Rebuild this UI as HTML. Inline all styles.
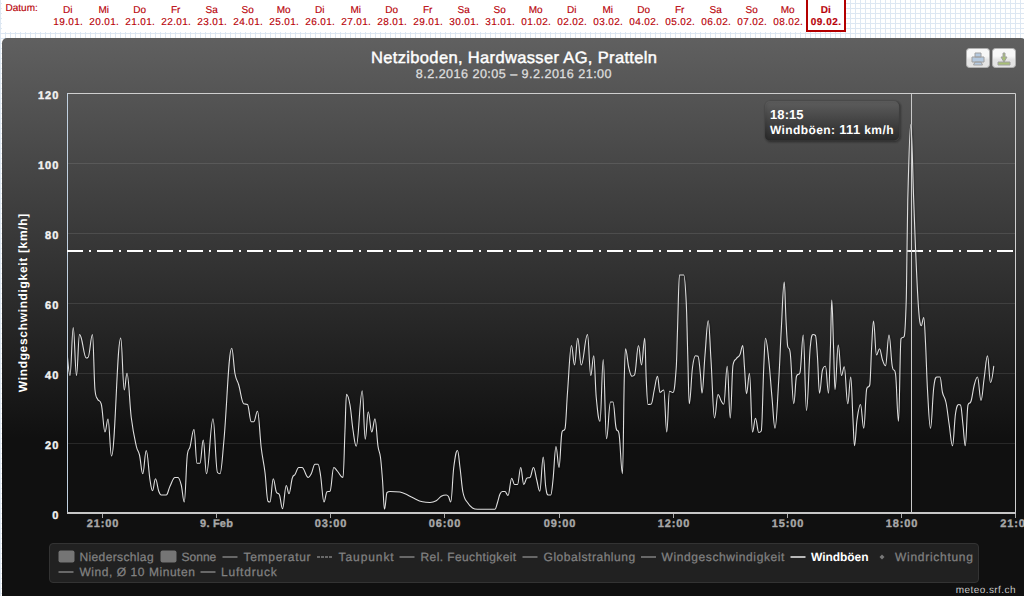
<!DOCTYPE html>
<html>
<head>
<meta charset="utf-8">
<title>Netziboden</title>
<style>
html,body{margin:0;padding:0;}
body{width:1024px;height:596px;overflow:hidden;position:relative;background-color:#fff;
 background-image:linear-gradient(#dde7f2 1px,transparent 1px),linear-gradient(90deg,#dde7f2 1px,transparent 1px);
 background-size:5px 5px;background-position:0 3px;
 font-family:"Liberation Sans",sans-serif;}
#bar{position:absolute;left:2px;top:0;width:844px;height:32px;background:#fff;}
#datum{position:absolute;left:5px;top:2px;font-size:10px;line-height:12px;color:#b80000;}
.d{position:absolute;top:3px;width:40px;margin-left:-20px;text-align:center;font-size:10px;line-height:12.5px;color:#b80000;white-space:nowrap;}
.d.sel{font-weight:bold;}
#selbox{position:absolute;left:806px;top:-4px;width:36px;height:32px;border:2px solid #b40000;}
#chart{position:absolute;left:2px;top:38px;width:1024px;height:575px;border-radius:5px;
 background:linear-gradient(to bottom,rgb(96,96,96) 0,rgb(16,16,16) 400px,rgb(16,16,16) 100%);}
svg{position:absolute;left:0;top:0;}
text{font-family:"Liberation Sans",sans-serif;text-rendering:geometricPrecision;}
</style>
</head>
<body>
<div id="bar"></div>
<div id="selbox"></div>
<div id="chart"></div>
<svg width="1024" height="596" viewBox="0 0 1024 596">
<defs>
<linearGradient id="btn" x1="0" y1="0" x2="0" y2="1"><stop offset="0.4" stop-color="#f7f7f7"/><stop offset="0.6" stop-color="#e3e3e3"/></linearGradient>
<linearGradient id="tt" gradientUnits="userSpaceOnUse" x1="0" y1="101" x2="0" y2="151"><stop offset="0" stop-color="rgb(96,96,96)" stop-opacity="0.8"/><stop offset="1" stop-color="rgb(16,16,16)" stop-opacity="0.8"/></linearGradient>
<clipPath id="plotclip"><rect x="68" y="94" width="948" height="419"/></clipPath>
</defs>
<g font-size="10" fill="#b80008" stroke="#b80008" stroke-width="0.15" text-anchor="middle" id="dates">
<text x="67.70" y="12.8">Di</text><text x="68.10" y="24.9" textLength="29.5" lengthAdjust="spacing">19.01.</text>
<text x="103.70" y="12.8">Mi</text><text x="104.10" y="24.9" textLength="29.5" lengthAdjust="spacing">20.01.</text>
<text x="139.70" y="12.8">Do</text><text x="140.10" y="24.9" textLength="29.5" lengthAdjust="spacing">21.01.</text>
<text x="175.70" y="12.8">Fr</text><text x="176.10" y="24.9" textLength="29.5" lengthAdjust="spacing">22.01.</text>
<text x="211.70" y="12.8">Sa</text><text x="212.10" y="24.9" textLength="29.5" lengthAdjust="spacing">23.01.</text>
<text x="247.70" y="12.8">So</text><text x="248.10" y="24.9" textLength="29.5" lengthAdjust="spacing">24.01.</text>
<text x="283.70" y="12.8">Mo</text><text x="284.10" y="24.9" textLength="29.5" lengthAdjust="spacing">25.01.</text>
<text x="319.70" y="12.8">Di</text><text x="320.10" y="24.9" textLength="29.5" lengthAdjust="spacing">26.01.</text>
<text x="355.70" y="12.8">Mi</text><text x="356.10" y="24.9" textLength="29.5" lengthAdjust="spacing">27.01.</text>
<text x="391.70" y="12.8">Do</text><text x="392.10" y="24.9" textLength="29.5" lengthAdjust="spacing">28.01.</text>
<text x="427.70" y="12.8">Fr</text><text x="428.10" y="24.9" textLength="29.5" lengthAdjust="spacing">29.01.</text>
<text x="463.70" y="12.8">Sa</text><text x="464.10" y="24.9" textLength="29.5" lengthAdjust="spacing">30.01.</text>
<text x="499.70" y="12.8">So</text><text x="500.10" y="24.9" textLength="29.5" lengthAdjust="spacing">31.01.</text>
<text x="535.70" y="12.8">Mo</text><text x="536.10" y="24.9" textLength="29.5" lengthAdjust="spacing">01.02.</text>
<text x="571.70" y="12.8">Di</text><text x="572.10" y="24.9" textLength="29.5" lengthAdjust="spacing">02.02.</text>
<text x="607.70" y="12.8">Mi</text><text x="608.10" y="24.9" textLength="29.5" lengthAdjust="spacing">03.02.</text>
<text x="643.70" y="12.8">Do</text><text x="644.10" y="24.9" textLength="29.5" lengthAdjust="spacing">04.02.</text>
<text x="679.70" y="12.8">Fr</text><text x="680.10" y="24.9" textLength="29.5" lengthAdjust="spacing">05.02.</text>
<text x="715.70" y="12.8">Sa</text><text x="716.10" y="24.9" textLength="29.5" lengthAdjust="spacing">06.02.</text>
<text x="751.70" y="12.8">So</text><text x="752.10" y="24.9" textLength="29.5" lengthAdjust="spacing">07.02.</text>
<text x="787.70" y="12.8">Mo</text><text x="788.10" y="24.9" textLength="29.5" lengthAdjust="spacing">08.02.</text>
<text x="825.8" y="12.8" font-weight="bold">Di</text><text x="825.9" y="24.9" font-weight="bold" textLength="30.4" lengthAdjust="spacing">09.02.</text>
</g>
<text x="5.5" y="11" font-size="10" fill="#b80008" stroke="#b80008" stroke-width="0.15" textLength="32.3" lengthAdjust="spacing">Datum:</text>
<!-- title -->
<text x="514" y="63" text-anchor="middle" font-size="16.5" fill="#fff" stroke="#fff" stroke-width="0.45" id="title" textLength="286" lengthAdjust="spacing">Netziboden, Hardwasser AG, Pratteln</text>
<text x="513.7" y="78" text-anchor="middle" font-size="12.6" fill="#ddd" stroke="#ddd" stroke-width="0.3" id="subtitle" textLength="195.8" lengthAdjust="spacing">8.2.2016 20:05 – 9.2.2016 21:00</text>
<!-- gridlines -->
<g stroke="rgba(255,255,255,0.1)" stroke-width="1">
<path d="M68 163.5H1016M68 233.5H1016M68 303.5H1016M68 373.5H1016M68 443.5H1016"/>
</g>
<!-- plot border -->
<path d="M67.5 93.5H1015.5V513" fill="none" stroke="#cfcfcf" stroke-width="1"/>
<path d="M67.5 93V513" fill="none" stroke="#c0d0e0" stroke-width="1"/>
<path d="M67 513H1016" fill="none" stroke="#c6c6c6" stroke-width="2"/>
<!-- ticks -->
<path d="M102.5 514v4M216.5 514v4M330.5 514v4M444.5 514v4M559.5 514v4M673.5 514v4M787.5 514v4M901.5 514v4M1015.5 514v4" stroke="#a8a8a8" stroke-width="1"/>
<!-- x labels -->
<g font-size="11" font-weight="bold" fill="#a8a8a8" stroke="#a8a8a8" stroke-width="0.35" text-anchor="middle" letter-spacing="0.9" id="xl">
<text x="103" y="527">21:00</text><text x="216.6" y="527" letter-spacing="0.2">9. Feb</text><text x="331" y="527">03:00</text><text x="445" y="527">06:00</text>
<text x="560" y="527">09:00</text><text x="674" y="527">12:00</text><text x="788" y="527">15:00</text><text x="902" y="527">18:00</text><text x="1016.5" y="527">21:00</text>
</g>
<!-- y labels -->
<g font-size="11" font-weight="bold" fill="#f2f2f2" stroke="#f2f2f2" stroke-width="0.4" text-anchor="end" letter-spacing="1.0" id="yl">
<text x="59.3" y="99">120</text><text x="59.3" y="169">100</text><text x="59.3" y="239">80</text><text x="59.3" y="309">60</text>
<text x="59.3" y="379">40</text><text x="59.3" y="449">20</text><text x="59.3" y="519">0</text>
</g>
<text transform="translate(26.8,303) rotate(-90)" text-anchor="middle" font-size="12" font-weight="bold" fill="#fff" id="ytitle" textLength="178.5" lengthAdjust="spacing">Windgeschwindigkeit [km/h]</text>
<!-- plot line 75 -->
<path d="M67 251H1016" stroke="#fff" stroke-width="2" stroke-dasharray="16,6,2,6" fill="none"/>
<!-- crosshair -->
<path d="M911.5 94V513" stroke="#c9c9c9" stroke-width="1"/>
<!-- series -->
<g clip-path="url(#plotclip)" fill="none" stroke-linejoin="round" stroke-linecap="round">
<path d="M67.50 357.00 C67.50 357.00 69.00 375.50 70.00 375.50 C71.30 375.50 71.95 327.50 73.25 327.50 C74.55 327.50 75.20 375.50 76.50 375.50 C77.70 375.50 78.30 334.50 79.50 334.50 C80.20 334.50 80.55 335.56 81.25 338.00 C83.25 344.96 84.25 358.00 86.25 358.00 C86.95 358.00 87.30 358.00 88.00 357.50 C89.80 357.00 90.70 334.50 92.50 334.50 C93.50 334.50 94.00 381.00 95.00 390.00 C96.00 399.00 96.50 396.76 97.50 399.00 C99.00 402.36 99.75 399.00 101.25 404.00 C102.75 409.00 103.50 432.00 105.00 432.00 C106.20 432.00 106.80 419.00 108.00 419.00 C109.40 419.00 110.10 456.00 111.50 456.00 C115.20 456.00 117.05 338.00 120.75 338.00 C122.15 338.00 122.85 390.00 124.25 390.00 C125.35 390.00 125.90 373.25 127.00 373.25 C128.70 373.25 129.55 404.13 131.25 417.50 C133.25 433.23 134.25 436.91 136.25 446.00 C137.55 451.91 138.20 449.45 139.50 455.00 C140.80 460.55 141.45 473.75 142.75 473.75 C144.15 473.75 144.85 450.50 146.25 450.50 C147.75 450.50 148.50 470.34 150.00 480.00 C151.00 486.44 151.50 490.75 152.50 490.75 C153.70 490.75 154.30 478.75 155.50 478.75 C156.80 478.75 157.45 487.58 158.75 491.25 C159.75 494.08 160.25 495.00 161.25 495.00 C163.25 495.00 164.25 495.00 166.25 495.00 C167.75 495.00 168.50 489.25 170.00 486.25 C172.00 482.25 173.00 477.50 175.00 477.50 C176.20 477.50 176.80 477.50 178.00 477.50 C179.30 477.50 179.95 479.90 181.25 485.00 C182.45 489.70 183.05 502.00 184.25 502.00 C185.55 502.00 186.20 460.50 187.50 453.75 C188.50 447.00 189.00 450.73 190.00 447.00 C191.60 441.03 192.40 429.50 194.00 429.50 C195.20 429.50 195.80 463.25 197.00 463.25 C198.20 463.25 198.80 463.25 200.00 463.25 C201.30 463.25 201.95 440.00 203.25 440.00 C204.55 440.00 205.20 473.75 206.50 473.75 C209.10 473.75 210.40 418.75 213.00 418.75 C214.80 418.75 215.70 471.25 217.50 472.50 C218.50 473.75 219.00 473.75 220.00 473.75 C221.50 473.75 222.25 458.52 223.75 442.50 C226.95 408.32 228.55 348.25 231.75 348.25 C233.05 348.25 233.70 366.92 235.00 373.75 C236.50 381.62 237.25 379.86 238.75 385.00 C240.75 391.86 241.75 403.00 243.75 403.75 C245.25 404.50 246.00 403.75 247.50 404.50 C249.00 405.25 249.75 421.75 251.25 421.75 C252.25 421.75 252.75 421.75 253.75 421.75 C255.25 421.75 256.00 411.25 257.50 411.25 C259.00 411.25 259.75 435.75 261.25 448.00 C262.75 460.25 263.50 460.67 265.00 472.50 C266.20 481.97 266.80 500.50 268.00 501.25 C268.80 502.00 269.20 502.00 270.00 502.00 C271.30 502.00 271.95 478.75 273.25 478.75 C274.45 478.75 275.05 488.50 276.25 491.75 C277.55 495.00 278.20 491.75 279.50 495.00 C280.70 498.25 281.30 508.75 282.50 508.75 C284.00 508.75 284.75 485.50 286.25 485.50 C287.35 485.50 287.90 493.75 289.00 493.75 C290.40 493.75 291.10 480.50 292.50 477.50 C293.50 474.50 294.00 476.10 295.00 474.50 C296.50 472.10 297.25 467.50 298.75 467.50 C300.05 467.50 300.70 467.50 302.00 467.50 C304.50 467.50 305.75 477.50 308.25 477.50 C309.45 477.50 310.05 476.11 311.25 473.75 C312.75 470.81 313.50 464.25 315.00 464.25 C316.20 464.25 316.80 464.25 318.00 464.25 C319.00 464.25 319.50 468.71 320.50 475.00 C321.90 483.81 322.60 502.00 324.00 502.00 C325.20 502.00 325.80 492.25 327.00 491.75 C328.20 491.25 328.80 491.75 330.00 491.25 C331.50 490.75 332.25 467.50 333.75 467.50 C335.25 467.50 336.00 469.63 337.50 471.25 C339.70 473.63 340.80 477.50 343.00 477.50 C343.80 477.50 344.20 449.03 345.00 430.00 C345.60 415.73 345.90 394.25 346.50 394.25 C347.90 394.25 348.60 397.30 350.00 405.00 C351.20 411.60 351.80 422.08 353.00 430.00 C354.30 438.58 354.95 446.25 356.25 446.25 C358.65 446.25 359.85 390.75 362.25 390.75 C363.45 390.75 364.05 439.25 365.25 439.25 C366.45 439.25 367.05 411.75 368.25 411.75 C369.65 411.75 370.35 432.00 371.75 432.00 C373.05 432.00 373.70 418.75 375.00 418.75 C376.20 418.75 376.80 437.80 378.00 446.25 C379.00 453.30 379.50 450.00 380.50 457.50 C381.30 463.50 381.70 469.65 382.50 480.00 C383.30 490.35 383.70 509.25 384.50 509.25 C385.50 509.25 386.00 493.50 387.00 492.50 C388.20 491.50 388.80 491.50 390.00 491.50 C394.00 491.50 396.00 491.50 400.00 492.00 C402.00 492.50 403.00 492.87 405.00 493.75 C408.00 495.07 409.50 496.13 412.50 497.50 C416.50 499.33 418.50 501.00 422.50 501.75 C425.50 502.50 427.00 502.50 430.00 502.50 C432.50 502.50 433.75 502.14 436.25 500.75 C438.25 499.64 439.25 497.40 441.25 496.25 C443.25 495.10 444.25 495.00 446.25 495.00 C447.15 495.00 447.60 495.10 448.50 496.50 C449.40 497.90 449.85 502.00 450.75 502.00 C451.95 502.00 452.55 476.66 453.75 467.50 C455.25 456.06 456.00 450.50 457.50 450.50 C458.50 450.50 459.00 459.86 460.00 467.50 C461.20 476.66 461.80 486.90 463.00 492.50 C464.80 500.90 465.70 499.56 467.50 502.50 C469.50 505.76 470.50 506.75 472.50 508.00 C474.50 509.25 475.50 509.25 477.50 509.25 C484.50 509.25 488.00 509.25 495.00 509.25 C496.00 509.25 496.50 505.55 497.50 502.50 C498.50 499.45 499.00 496.20 500.00 494.00 C501.00 491.80 501.50 491.50 502.50 491.50 C503.50 491.50 504.00 491.50 505.00 491.50 C506.20 491.50 506.80 495.50 508.00 495.50 C509.50 495.50 510.25 478.25 511.75 478.25 C512.85 478.25 513.40 484.50 514.50 484.50 C515.70 484.50 516.30 484.50 517.50 484.50 C518.80 484.50 519.45 467.50 520.75 467.50 C521.95 467.50 522.55 484.50 523.75 484.50 C525.05 484.50 525.70 478.50 527.00 478.00 C528.20 477.50 528.80 478.00 530.00 477.50 C531.40 477.00 532.10 467.50 533.50 467.50 C534.80 467.50 535.45 475.06 536.75 480.00 C537.95 484.56 538.55 491.25 539.75 491.25 C541.15 491.25 541.85 457.00 543.25 457.00 C544.25 457.00 544.75 479.40 545.75 487.00 C546.75 494.60 547.25 495.00 548.25 495.00 C549.25 495.00 549.75 495.00 550.75 495.00 C551.65 495.00 552.10 488.31 553.00 480.00 C554.20 468.91 554.80 446.50 556.00 446.50 C557.20 446.50 557.80 467.50 559.00 467.50 C560.20 467.50 560.80 435.25 562.00 432.00 C563.20 428.75 563.80 432.00 565.00 428.75 C566.00 425.50 566.50 405.31 567.50 392.50 C569.10 372.01 569.90 345.50 571.50 345.50 C572.70 345.50 573.30 365.00 574.50 365.00 C575.80 365.00 576.45 338.25 577.75 338.25 C579.15 338.25 579.85 365.00 581.25 365.00 C583.75 365.00 585.00 334.50 587.50 334.50 C588.80 334.50 589.45 375.50 590.75 375.50 C591.95 375.50 592.55 355.75 593.75 355.75 C594.75 355.75 595.25 387.02 596.25 397.50 C597.75 413.22 598.50 421.25 600.00 421.25 C601.30 421.25 601.95 359.50 603.25 359.50 C604.55 359.50 605.20 438.75 606.50 438.75 C608.10 438.75 608.90 402.00 610.50 402.00 C611.50 402.00 612.00 402.00 613.00 402.00 C614.30 402.00 614.95 425.00 616.25 428.75 C617.25 432.50 617.75 428.75 618.75 432.50 C620.25 436.25 621.00 473.75 622.50 473.75 C623.20 473.75 623.55 409.17 624.25 380.00 C624.75 359.17 625.00 348.75 625.50 348.75 C626.80 348.75 627.45 362.00 628.75 367.50 C630.05 373.00 630.70 376.25 632.00 376.25 C633.00 376.25 633.50 376.25 634.50 375.00 C636.10 373.75 636.90 345.50 638.50 345.50 C639.70 345.50 640.30 365.00 641.50 365.00 C642.80 365.00 643.45 338.25 644.75 338.25 C645.35 338.25 645.65 367.77 646.25 380.00 C646.95 394.27 647.30 404.50 648.00 404.50 C649.30 404.50 649.95 404.50 651.25 404.00 C652.45 403.50 653.05 395.33 654.25 390.00 C655.55 384.23 656.20 376.25 657.50 376.25 C658.50 376.25 659.00 392.50 660.00 392.50 C660.70 392.50 661.05 391.72 661.75 391.25 C662.55 390.72 662.95 390.00 663.75 390.00 C664.95 390.00 665.55 432.00 666.75 432.00 C667.85 432.00 668.40 391.25 669.50 391.25 C670.90 391.25 671.60 392.50 673.00 392.50 C674.30 392.50 674.95 385.56 676.25 367.50 C676.75 360.56 677.00 344.23 677.50 330.00 C678.30 307.23 678.70 275.00 679.50 275.00 C681.20 275.00 682.05 275.00 683.75 275.00 C684.75 275.00 685.25 282.50 686.25 302.50 C686.85 314.50 687.15 334.75 687.75 355.00 C688.35 375.25 688.65 403.75 689.25 403.75 C690.55 403.75 691.20 377.48 692.50 367.50 C693.70 358.28 694.30 355.75 695.50 355.75 C696.50 355.75 697.00 355.75 698.00 356.25 C699.00 356.75 699.50 365.75 700.50 375.00 C701.10 380.55 701.40 393.25 702.00 393.25 C703.20 393.25 703.80 368.92 705.00 355.00 C706.30 339.92 706.95 320.75 708.25 320.75 C709.35 320.75 709.90 342.88 711.00 360.00 C712.40 381.78 713.10 418.00 714.50 418.00 C715.90 418.00 716.60 394.50 718.00 394.50 C719.30 394.50 719.95 398.80 721.25 401.00 C722.25 402.70 722.75 404.25 723.75 404.25 C725.15 404.25 725.85 366.25 727.25 366.25 C728.45 366.25 729.05 418.00 730.25 418.00 C731.35 418.00 731.90 371.25 733.00 365.00 C734.30 358.75 734.95 360.70 736.25 358.75 C737.75 356.50 738.50 357.56 740.00 354.50 C741.10 352.26 741.65 345.50 742.75 345.50 C743.45 345.50 743.80 358.49 744.50 367.50 C745.30 377.79 745.70 393.75 746.50 393.75 C747.70 393.75 748.30 373.25 749.50 373.25 C750.70 373.25 751.30 432.00 752.50 432.00 C753.70 432.00 754.30 418.25 755.50 418.25 C756.80 418.25 757.45 432.50 758.75 432.50 C759.75 432.50 760.25 432.50 761.25 431.00 C762.25 429.50 762.75 389.32 763.75 367.50 C764.45 352.22 764.80 338.25 765.50 338.25 C766.80 338.25 767.45 348.15 768.75 360.00 C770.05 371.85 770.70 383.30 772.00 397.50 C773.20 410.60 773.80 428.25 775.00 428.25 C776.50 428.25 777.25 403.58 778.75 380.00 C779.75 364.28 780.25 347.82 781.25 330.00 C782.45 308.62 783.05 282.00 784.25 282.00 C784.95 282.00 785.30 306.43 786.00 320.00 C786.60 331.63 786.90 338.50 787.50 345.00 C788.50 351.50 789.00 345.00 790.00 351.50 C791.50 358.00 792.25 403.75 793.75 403.75 C794.85 403.75 795.40 380.00 796.50 376.25 C797.90 372.50 798.60 376.25 800.00 372.50 C801.30 368.75 801.95 335.00 803.25 335.00 C804.55 335.00 805.20 410.50 806.50 410.50 C808.10 410.50 808.90 355.50 810.50 345.00 C811.50 334.50 812.00 334.50 813.00 334.50 C814.00 334.50 814.50 334.50 815.50 335.50 C816.30 336.50 816.70 345.95 817.50 357.50 C818.30 369.05 818.70 393.25 819.50 393.25 C820.70 393.25 821.30 373.75 822.50 370.00 C823.70 366.25 824.30 366.25 825.50 366.25 C826.70 366.25 827.30 393.25 828.50 393.25 C829.30 393.25 829.70 367.95 830.50 345.00 C831.00 330.65 831.25 300.00 831.75 300.00 C832.45 300.00 832.80 325.72 833.50 345.00 C834.10 361.52 834.40 389.50 835.00 389.50 C836.30 389.50 836.95 345.00 838.25 345.00 C839.55 345.00 840.20 375.50 841.50 375.50 C842.60 375.50 843.15 366.75 844.25 366.75 C845.65 366.75 846.35 403.75 847.75 403.75 C848.95 403.75 849.55 377.00 850.75 377.00 C851.65 377.00 852.10 403.50 853.00 420.00 C853.60 431.00 853.90 445.75 854.50 445.75 C855.50 445.75 856.00 426.88 857.00 420.00 C858.40 410.38 859.10 404.50 860.50 404.50 C861.80 404.50 862.45 428.25 863.75 428.25 C864.95 428.25 865.55 392.50 866.75 388.75 C867.95 385.00 868.55 388.75 869.75 385.00 C870.55 381.25 870.95 358.65 871.75 345.00 C872.45 333.05 872.80 321.00 873.50 321.00 C874.70 321.00 875.30 355.00 876.50 355.00 C877.70 355.00 878.30 348.75 879.50 348.75 C880.70 348.75 881.30 356.60 882.50 360.00 C883.70 363.40 884.30 365.75 885.50 365.75 C886.90 365.75 887.60 335.00 889.00 335.00 C890.30 335.00 890.95 358.75 892.25 366.25 C893.55 373.75 894.20 366.25 895.50 373.75 C896.70 381.25 897.30 421.25 898.50 421.25 C899.50 421.25 900.00 341.25 901.00 338.75 C902.30 336.25 902.95 338.75 904.25 336.25 C905.05 333.75 905.45 325.09 906.25 300.00 C906.55 290.59 906.70 270.00 907.00 250.00 C907.30 230.00 907.45 210.04 907.75 200.00 C908.95 159.84 909.55 124.50 910.75 124.50 C911.93 124.50 912.52 169.47 913.70 200.00 C914.46 219.67 914.84 232.33 915.60 250.00 C916.56 272.33 917.04 284.18 918.00 300.00 C918.80 313.18 919.20 319.25 920.00 322.50 C920.50 325.75 920.75 325.75 921.25 325.75 C922.25 325.75 922.75 317.50 923.75 317.50 C924.45 317.50 924.80 328.97 925.50 342.50 C926.30 357.97 926.70 376.28 927.50 390.00 C928.70 410.58 929.30 428.25 930.50 428.25 C931.80 428.25 932.45 398.16 933.75 387.50 C934.95 377.66 935.55 377.00 936.75 377.00 C938.05 377.00 938.70 377.00 940.00 377.00 C941.00 377.00 941.50 388.25 942.50 392.50 C943.90 398.45 944.60 395.76 946.00 402.50 C947.30 408.76 947.95 416.35 949.25 425.00 C950.55 433.65 951.20 445.75 952.50 445.75 C953.70 445.75 954.30 421.67 955.50 413.75 C956.80 405.17 957.45 404.50 958.75 404.50 C959.45 404.50 959.80 404.50 960.50 405.00 C961.50 405.50 962.00 416.42 963.00 425.00 C963.90 432.72 964.35 445.75 965.25 445.75 C966.35 445.75 966.90 408.75 968.00 405.00 C969.20 401.25 969.80 405.00 971.00 401.25 C972.30 397.50 972.95 389.85 974.25 385.00 C975.55 380.15 976.20 377.00 977.50 377.00 C978.90 377.00 979.60 400.50 981.00 400.50 C982.30 400.50 982.95 386.45 984.25 377.50 C985.55 368.55 986.20 355.75 987.50 355.75 C988.70 355.75 989.30 382.50 990.50 382.50 C991.80 382.50 993.75 366.25 993.75 366.25" stroke="#000" stroke-opacity="0.15" stroke-width="2.5" transform="translate(1,1)"/>
<path d="M67.50 357.00 C67.50 357.00 69.00 375.50 70.00 375.50 C71.30 375.50 71.95 327.50 73.25 327.50 C74.55 327.50 75.20 375.50 76.50 375.50 C77.70 375.50 78.30 334.50 79.50 334.50 C80.20 334.50 80.55 335.56 81.25 338.00 C83.25 344.96 84.25 358.00 86.25 358.00 C86.95 358.00 87.30 358.00 88.00 357.50 C89.80 357.00 90.70 334.50 92.50 334.50 C93.50 334.50 94.00 381.00 95.00 390.00 C96.00 399.00 96.50 396.76 97.50 399.00 C99.00 402.36 99.75 399.00 101.25 404.00 C102.75 409.00 103.50 432.00 105.00 432.00 C106.20 432.00 106.80 419.00 108.00 419.00 C109.40 419.00 110.10 456.00 111.50 456.00 C115.20 456.00 117.05 338.00 120.75 338.00 C122.15 338.00 122.85 390.00 124.25 390.00 C125.35 390.00 125.90 373.25 127.00 373.25 C128.70 373.25 129.55 404.13 131.25 417.50 C133.25 433.23 134.25 436.91 136.25 446.00 C137.55 451.91 138.20 449.45 139.50 455.00 C140.80 460.55 141.45 473.75 142.75 473.75 C144.15 473.75 144.85 450.50 146.25 450.50 C147.75 450.50 148.50 470.34 150.00 480.00 C151.00 486.44 151.50 490.75 152.50 490.75 C153.70 490.75 154.30 478.75 155.50 478.75 C156.80 478.75 157.45 487.58 158.75 491.25 C159.75 494.08 160.25 495.00 161.25 495.00 C163.25 495.00 164.25 495.00 166.25 495.00 C167.75 495.00 168.50 489.25 170.00 486.25 C172.00 482.25 173.00 477.50 175.00 477.50 C176.20 477.50 176.80 477.50 178.00 477.50 C179.30 477.50 179.95 479.90 181.25 485.00 C182.45 489.70 183.05 502.00 184.25 502.00 C185.55 502.00 186.20 460.50 187.50 453.75 C188.50 447.00 189.00 450.73 190.00 447.00 C191.60 441.03 192.40 429.50 194.00 429.50 C195.20 429.50 195.80 463.25 197.00 463.25 C198.20 463.25 198.80 463.25 200.00 463.25 C201.30 463.25 201.95 440.00 203.25 440.00 C204.55 440.00 205.20 473.75 206.50 473.75 C209.10 473.75 210.40 418.75 213.00 418.75 C214.80 418.75 215.70 471.25 217.50 472.50 C218.50 473.75 219.00 473.75 220.00 473.75 C221.50 473.75 222.25 458.52 223.75 442.50 C226.95 408.32 228.55 348.25 231.75 348.25 C233.05 348.25 233.70 366.92 235.00 373.75 C236.50 381.62 237.25 379.86 238.75 385.00 C240.75 391.86 241.75 403.00 243.75 403.75 C245.25 404.50 246.00 403.75 247.50 404.50 C249.00 405.25 249.75 421.75 251.25 421.75 C252.25 421.75 252.75 421.75 253.75 421.75 C255.25 421.75 256.00 411.25 257.50 411.25 C259.00 411.25 259.75 435.75 261.25 448.00 C262.75 460.25 263.50 460.67 265.00 472.50 C266.20 481.97 266.80 500.50 268.00 501.25 C268.80 502.00 269.20 502.00 270.00 502.00 C271.30 502.00 271.95 478.75 273.25 478.75 C274.45 478.75 275.05 488.50 276.25 491.75 C277.55 495.00 278.20 491.75 279.50 495.00 C280.70 498.25 281.30 508.75 282.50 508.75 C284.00 508.75 284.75 485.50 286.25 485.50 C287.35 485.50 287.90 493.75 289.00 493.75 C290.40 493.75 291.10 480.50 292.50 477.50 C293.50 474.50 294.00 476.10 295.00 474.50 C296.50 472.10 297.25 467.50 298.75 467.50 C300.05 467.50 300.70 467.50 302.00 467.50 C304.50 467.50 305.75 477.50 308.25 477.50 C309.45 477.50 310.05 476.11 311.25 473.75 C312.75 470.81 313.50 464.25 315.00 464.25 C316.20 464.25 316.80 464.25 318.00 464.25 C319.00 464.25 319.50 468.71 320.50 475.00 C321.90 483.81 322.60 502.00 324.00 502.00 C325.20 502.00 325.80 492.25 327.00 491.75 C328.20 491.25 328.80 491.75 330.00 491.25 C331.50 490.75 332.25 467.50 333.75 467.50 C335.25 467.50 336.00 469.63 337.50 471.25 C339.70 473.63 340.80 477.50 343.00 477.50 C343.80 477.50 344.20 449.03 345.00 430.00 C345.60 415.73 345.90 394.25 346.50 394.25 C347.90 394.25 348.60 397.30 350.00 405.00 C351.20 411.60 351.80 422.08 353.00 430.00 C354.30 438.58 354.95 446.25 356.25 446.25 C358.65 446.25 359.85 390.75 362.25 390.75 C363.45 390.75 364.05 439.25 365.25 439.25 C366.45 439.25 367.05 411.75 368.25 411.75 C369.65 411.75 370.35 432.00 371.75 432.00 C373.05 432.00 373.70 418.75 375.00 418.75 C376.20 418.75 376.80 437.80 378.00 446.25 C379.00 453.30 379.50 450.00 380.50 457.50 C381.30 463.50 381.70 469.65 382.50 480.00 C383.30 490.35 383.70 509.25 384.50 509.25 C385.50 509.25 386.00 493.50 387.00 492.50 C388.20 491.50 388.80 491.50 390.00 491.50 C394.00 491.50 396.00 491.50 400.00 492.00 C402.00 492.50 403.00 492.87 405.00 493.75 C408.00 495.07 409.50 496.13 412.50 497.50 C416.50 499.33 418.50 501.00 422.50 501.75 C425.50 502.50 427.00 502.50 430.00 502.50 C432.50 502.50 433.75 502.14 436.25 500.75 C438.25 499.64 439.25 497.40 441.25 496.25 C443.25 495.10 444.25 495.00 446.25 495.00 C447.15 495.00 447.60 495.10 448.50 496.50 C449.40 497.90 449.85 502.00 450.75 502.00 C451.95 502.00 452.55 476.66 453.75 467.50 C455.25 456.06 456.00 450.50 457.50 450.50 C458.50 450.50 459.00 459.86 460.00 467.50 C461.20 476.66 461.80 486.90 463.00 492.50 C464.80 500.90 465.70 499.56 467.50 502.50 C469.50 505.76 470.50 506.75 472.50 508.00 C474.50 509.25 475.50 509.25 477.50 509.25 C484.50 509.25 488.00 509.25 495.00 509.25 C496.00 509.25 496.50 505.55 497.50 502.50 C498.50 499.45 499.00 496.20 500.00 494.00 C501.00 491.80 501.50 491.50 502.50 491.50 C503.50 491.50 504.00 491.50 505.00 491.50 C506.20 491.50 506.80 495.50 508.00 495.50 C509.50 495.50 510.25 478.25 511.75 478.25 C512.85 478.25 513.40 484.50 514.50 484.50 C515.70 484.50 516.30 484.50 517.50 484.50 C518.80 484.50 519.45 467.50 520.75 467.50 C521.95 467.50 522.55 484.50 523.75 484.50 C525.05 484.50 525.70 478.50 527.00 478.00 C528.20 477.50 528.80 478.00 530.00 477.50 C531.40 477.00 532.10 467.50 533.50 467.50 C534.80 467.50 535.45 475.06 536.75 480.00 C537.95 484.56 538.55 491.25 539.75 491.25 C541.15 491.25 541.85 457.00 543.25 457.00 C544.25 457.00 544.75 479.40 545.75 487.00 C546.75 494.60 547.25 495.00 548.25 495.00 C549.25 495.00 549.75 495.00 550.75 495.00 C551.65 495.00 552.10 488.31 553.00 480.00 C554.20 468.91 554.80 446.50 556.00 446.50 C557.20 446.50 557.80 467.50 559.00 467.50 C560.20 467.50 560.80 435.25 562.00 432.00 C563.20 428.75 563.80 432.00 565.00 428.75 C566.00 425.50 566.50 405.31 567.50 392.50 C569.10 372.01 569.90 345.50 571.50 345.50 C572.70 345.50 573.30 365.00 574.50 365.00 C575.80 365.00 576.45 338.25 577.75 338.25 C579.15 338.25 579.85 365.00 581.25 365.00 C583.75 365.00 585.00 334.50 587.50 334.50 C588.80 334.50 589.45 375.50 590.75 375.50 C591.95 375.50 592.55 355.75 593.75 355.75 C594.75 355.75 595.25 387.02 596.25 397.50 C597.75 413.22 598.50 421.25 600.00 421.25 C601.30 421.25 601.95 359.50 603.25 359.50 C604.55 359.50 605.20 438.75 606.50 438.75 C608.10 438.75 608.90 402.00 610.50 402.00 C611.50 402.00 612.00 402.00 613.00 402.00 C614.30 402.00 614.95 425.00 616.25 428.75 C617.25 432.50 617.75 428.75 618.75 432.50 C620.25 436.25 621.00 473.75 622.50 473.75 C623.20 473.75 623.55 409.17 624.25 380.00 C624.75 359.17 625.00 348.75 625.50 348.75 C626.80 348.75 627.45 362.00 628.75 367.50 C630.05 373.00 630.70 376.25 632.00 376.25 C633.00 376.25 633.50 376.25 634.50 375.00 C636.10 373.75 636.90 345.50 638.50 345.50 C639.70 345.50 640.30 365.00 641.50 365.00 C642.80 365.00 643.45 338.25 644.75 338.25 C645.35 338.25 645.65 367.77 646.25 380.00 C646.95 394.27 647.30 404.50 648.00 404.50 C649.30 404.50 649.95 404.50 651.25 404.00 C652.45 403.50 653.05 395.33 654.25 390.00 C655.55 384.23 656.20 376.25 657.50 376.25 C658.50 376.25 659.00 392.50 660.00 392.50 C660.70 392.50 661.05 391.72 661.75 391.25 C662.55 390.72 662.95 390.00 663.75 390.00 C664.95 390.00 665.55 432.00 666.75 432.00 C667.85 432.00 668.40 391.25 669.50 391.25 C670.90 391.25 671.60 392.50 673.00 392.50 C674.30 392.50 674.95 385.56 676.25 367.50 C676.75 360.56 677.00 344.23 677.50 330.00 C678.30 307.23 678.70 275.00 679.50 275.00 C681.20 275.00 682.05 275.00 683.75 275.00 C684.75 275.00 685.25 282.50 686.25 302.50 C686.85 314.50 687.15 334.75 687.75 355.00 C688.35 375.25 688.65 403.75 689.25 403.75 C690.55 403.75 691.20 377.48 692.50 367.50 C693.70 358.28 694.30 355.75 695.50 355.75 C696.50 355.75 697.00 355.75 698.00 356.25 C699.00 356.75 699.50 365.75 700.50 375.00 C701.10 380.55 701.40 393.25 702.00 393.25 C703.20 393.25 703.80 368.92 705.00 355.00 C706.30 339.92 706.95 320.75 708.25 320.75 C709.35 320.75 709.90 342.88 711.00 360.00 C712.40 381.78 713.10 418.00 714.50 418.00 C715.90 418.00 716.60 394.50 718.00 394.50 C719.30 394.50 719.95 398.80 721.25 401.00 C722.25 402.70 722.75 404.25 723.75 404.25 C725.15 404.25 725.85 366.25 727.25 366.25 C728.45 366.25 729.05 418.00 730.25 418.00 C731.35 418.00 731.90 371.25 733.00 365.00 C734.30 358.75 734.95 360.70 736.25 358.75 C737.75 356.50 738.50 357.56 740.00 354.50 C741.10 352.26 741.65 345.50 742.75 345.50 C743.45 345.50 743.80 358.49 744.50 367.50 C745.30 377.79 745.70 393.75 746.50 393.75 C747.70 393.75 748.30 373.25 749.50 373.25 C750.70 373.25 751.30 432.00 752.50 432.00 C753.70 432.00 754.30 418.25 755.50 418.25 C756.80 418.25 757.45 432.50 758.75 432.50 C759.75 432.50 760.25 432.50 761.25 431.00 C762.25 429.50 762.75 389.32 763.75 367.50 C764.45 352.22 764.80 338.25 765.50 338.25 C766.80 338.25 767.45 348.15 768.75 360.00 C770.05 371.85 770.70 383.30 772.00 397.50 C773.20 410.60 773.80 428.25 775.00 428.25 C776.50 428.25 777.25 403.58 778.75 380.00 C779.75 364.28 780.25 347.82 781.25 330.00 C782.45 308.62 783.05 282.00 784.25 282.00 C784.95 282.00 785.30 306.43 786.00 320.00 C786.60 331.63 786.90 338.50 787.50 345.00 C788.50 351.50 789.00 345.00 790.00 351.50 C791.50 358.00 792.25 403.75 793.75 403.75 C794.85 403.75 795.40 380.00 796.50 376.25 C797.90 372.50 798.60 376.25 800.00 372.50 C801.30 368.75 801.95 335.00 803.25 335.00 C804.55 335.00 805.20 410.50 806.50 410.50 C808.10 410.50 808.90 355.50 810.50 345.00 C811.50 334.50 812.00 334.50 813.00 334.50 C814.00 334.50 814.50 334.50 815.50 335.50 C816.30 336.50 816.70 345.95 817.50 357.50 C818.30 369.05 818.70 393.25 819.50 393.25 C820.70 393.25 821.30 373.75 822.50 370.00 C823.70 366.25 824.30 366.25 825.50 366.25 C826.70 366.25 827.30 393.25 828.50 393.25 C829.30 393.25 829.70 367.95 830.50 345.00 C831.00 330.65 831.25 300.00 831.75 300.00 C832.45 300.00 832.80 325.72 833.50 345.00 C834.10 361.52 834.40 389.50 835.00 389.50 C836.30 389.50 836.95 345.00 838.25 345.00 C839.55 345.00 840.20 375.50 841.50 375.50 C842.60 375.50 843.15 366.75 844.25 366.75 C845.65 366.75 846.35 403.75 847.75 403.75 C848.95 403.75 849.55 377.00 850.75 377.00 C851.65 377.00 852.10 403.50 853.00 420.00 C853.60 431.00 853.90 445.75 854.50 445.75 C855.50 445.75 856.00 426.88 857.00 420.00 C858.40 410.38 859.10 404.50 860.50 404.50 C861.80 404.50 862.45 428.25 863.75 428.25 C864.95 428.25 865.55 392.50 866.75 388.75 C867.95 385.00 868.55 388.75 869.75 385.00 C870.55 381.25 870.95 358.65 871.75 345.00 C872.45 333.05 872.80 321.00 873.50 321.00 C874.70 321.00 875.30 355.00 876.50 355.00 C877.70 355.00 878.30 348.75 879.50 348.75 C880.70 348.75 881.30 356.60 882.50 360.00 C883.70 363.40 884.30 365.75 885.50 365.75 C886.90 365.75 887.60 335.00 889.00 335.00 C890.30 335.00 890.95 358.75 892.25 366.25 C893.55 373.75 894.20 366.25 895.50 373.75 C896.70 381.25 897.30 421.25 898.50 421.25 C899.50 421.25 900.00 341.25 901.00 338.75 C902.30 336.25 902.95 338.75 904.25 336.25 C905.05 333.75 905.45 325.09 906.25 300.00 C906.55 290.59 906.70 270.00 907.00 250.00 C907.30 230.00 907.45 210.04 907.75 200.00 C908.95 159.84 909.55 124.50 910.75 124.50 C911.93 124.50 912.52 169.47 913.70 200.00 C914.46 219.67 914.84 232.33 915.60 250.00 C916.56 272.33 917.04 284.18 918.00 300.00 C918.80 313.18 919.20 319.25 920.00 322.50 C920.50 325.75 920.75 325.75 921.25 325.75 C922.25 325.75 922.75 317.50 923.75 317.50 C924.45 317.50 924.80 328.97 925.50 342.50 C926.30 357.97 926.70 376.28 927.50 390.00 C928.70 410.58 929.30 428.25 930.50 428.25 C931.80 428.25 932.45 398.16 933.75 387.50 C934.95 377.66 935.55 377.00 936.75 377.00 C938.05 377.00 938.70 377.00 940.00 377.00 C941.00 377.00 941.50 388.25 942.50 392.50 C943.90 398.45 944.60 395.76 946.00 402.50 C947.30 408.76 947.95 416.35 949.25 425.00 C950.55 433.65 951.20 445.75 952.50 445.75 C953.70 445.75 954.30 421.67 955.50 413.75 C956.80 405.17 957.45 404.50 958.75 404.50 C959.45 404.50 959.80 404.50 960.50 405.00 C961.50 405.50 962.00 416.42 963.00 425.00 C963.90 432.72 964.35 445.75 965.25 445.75 C966.35 445.75 966.90 408.75 968.00 405.00 C969.20 401.25 969.80 405.00 971.00 401.25 C972.30 397.50 972.95 389.85 974.25 385.00 C975.55 380.15 976.20 377.00 977.50 377.00 C978.90 377.00 979.60 400.50 981.00 400.50 C982.30 400.50 982.95 386.45 984.25 377.50 C985.55 368.55 986.20 355.75 987.50 355.75 C988.70 355.75 989.30 382.50 990.50 382.50 C991.80 382.50 993.75 366.25 993.75 366.25" stroke="#dedede" stroke-width="1.1"/>
</g>
<!-- tooltip -->
<g fill="none" stroke="#000" transform="translate(1,1)">
<rect x="765" y="101" width="134" height="39.5" rx="5" stroke-opacity="0.05" stroke-width="5"/>
<rect x="765" y="101" width="134" height="39.5" rx="5" stroke-opacity="0.1" stroke-width="3"/>
<rect x="765" y="101" width="134" height="39.5" rx="5" stroke-opacity="0.15" stroke-width="1"/>
</g>
<rect x="765" y="101" width="134" height="39.5" rx="5" fill="url(#tt)"/>
<g font-size="12" font-weight="bold" fill="#fff" id="ttx">
<text x="770" y="119" textLength="33.6" lengthAdjust="spacing" font-size="13">18:15</text>
<text x="770" y="134" textLength="123.5" lengthAdjust="spacing">Windböen: <tspan font-size="13">111</tspan> km/h</text>
</g>
<!-- buttons -->
<g>
<rect x="966.5" y="48.5" width="23" height="19" rx="3" fill="url(#btn)" stroke="#b0b0b0" stroke-width="1"/>
<rect x="992.5" y="48.5" width="23" height="19" rx="3" fill="url(#btn)" stroke="#b0b0b0" stroke-width="1"/>
<g id="printer" fill="#b5c9df" stroke="#a0a0a0" stroke-width="1" transform="translate(0.5,0.5)">
<path d="M971.5 61.5H983.5V56.5H971.5Z M974.5 56.5V52.5H980.5V56.5Z M974.5 61.5L973 64.5H982L980.5 61.5Z"/>
</g>
<g id="export" fill="#a8bf77" stroke="#a0a0a0" stroke-width="1" transform="translate(0.5,0.5)">
<path d="M997.5 64.5H1009.5V61.5H997.5Z M1003.5 61.5L1006.5 56.5H1004.5V52.5H1002.5V56.5H1000.5Z"/>
</g>
</g>
<!-- legend -->
<rect x="49.5" y="543.5" width="929" height="39" rx="3.5" fill="rgba(48,48,48,0.55)" stroke="#333" stroke-width="1"/>
<g id="legend" font-size="12" fill="#828282" stroke="#828282" stroke-width="0.25">
<rect x="58.5" y="550.5" width="16" height="12" rx="2" fill="#757575" stroke="none"/>
<text x="79.5" y="561" textLength="74.1" lengthAdjust="spacing">Niederschlag</text>
<rect x="160.5" y="550.5" width="16" height="12" rx="2" fill="#757575" stroke="none"/>
<text x="181.5" y="561" textLength="34.8" lengthAdjust="spacing">Sonne</text>
<path d="M222.5 557H237.5" stroke="#686868" stroke-width="2"/>
<text x="243.5" y="561" textLength="67.1" lengthAdjust="spacing">Temperatur</text>
<path d="M317 557H333" stroke="#686868" stroke-width="2" stroke-dasharray="3,1"/>
<text x="338.5" y="561" textLength="55.2" lengthAdjust="spacing">Taupunkt</text>
<path d="M399.5 557H414.5" stroke="#686868" stroke-width="2"/>
<text x="420.5" y="561" textLength="95.7" lengthAdjust="spacing">Rel. Feuchtigkeit</text>
<path d="M522.5 557H537.5" stroke="#686868" stroke-width="2"/>
<text x="543.5" y="561" textLength="91.7" lengthAdjust="spacing">Globalstrahlung</text>
<path d="M641 557H656" stroke="#686868" stroke-width="2"/>
<text x="661.5" y="561" textLength="122.9" lengthAdjust="spacing">Windgeschwindigkeit</text>
<path d="M790.5 557H805.5" stroke="#b8b8b8" stroke-width="2"/>
<text x="811" y="561" fill="#fff" stroke="none" font-weight="bold" textLength="57.6" lengthAdjust="spacing">Windböen</text>
<path d="M882 554.5l2.5 2.5l-2.5 2.5l-2.5-2.5z" fill="#777" stroke="none"/>
<text x="895" y="561" textLength="77.9" lengthAdjust="spacing">Windrichtung</text>
<path d="M58.5 572H73.5" stroke="#686868" stroke-width="2"/>
<text x="79.5" y="576" textLength="115.4" lengthAdjust="spacing">Wind, Ø 10 Minuten</text>
<path d="M200.5 572H215.5" stroke="#686868" stroke-width="2"/>
<text x="221" y="576" textLength="55.7" lengthAdjust="spacing">Luftdruck</text>
</g>
<text x="1015.5" y="593" text-anchor="end" font-size="10" fill="#c8c8c8" id="credits" textLength="59.8" lengthAdjust="spacing">meteo.srf.ch</text>
</svg>
</body>
</html>
